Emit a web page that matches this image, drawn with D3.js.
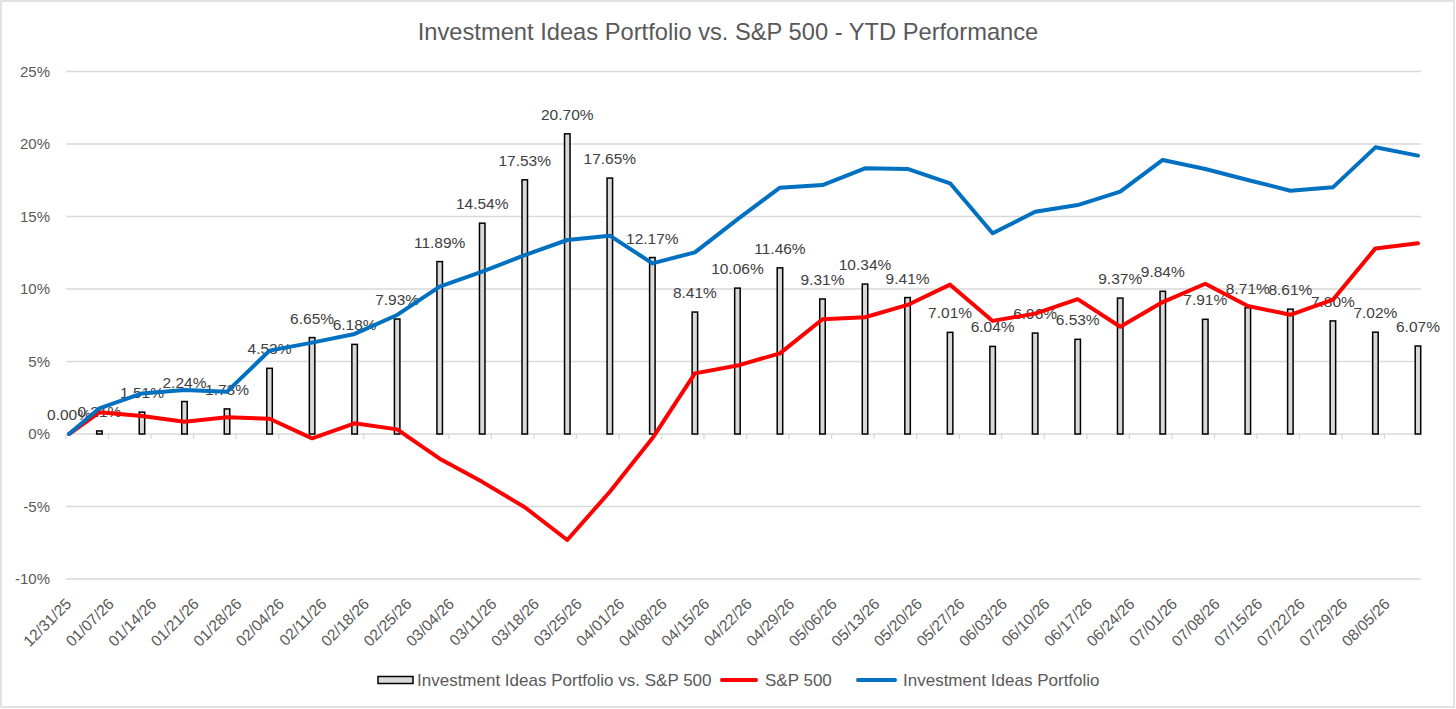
<!DOCTYPE html>
<html>
<head>
<meta charset="utf-8">
<script src="https://cdn.jsdelivr.net/npm/d3@7"></script>
<style>
  body { margin: 0; background: #fff; }
  text { font-family: "Liberation Sans", Arial, sans-serif; }
</style>
</head>
<body>
<div id="chart"></div>
<script>
// weekly observation dates (Mondays, plus the year start)
const dates = ["2025-12-31", "2026-01-05", "2026-01-12", "2026-01-19", "2026-01-26", "2026-02-02", "2026-02-09",
  "2026-02-16", "2026-02-23", "2026-03-02", "2026-03-09", "2026-03-16", "2026-03-23", "2026-03-30", "2026-04-06",
  "2026-04-13", "2026-04-20", "2026-04-27", "2026-05-04", "2026-05-11", "2026-05-18", "2026-05-25", "2026-06-01",
  "2026-06-08", "2026-06-15", "2026-06-22", "2026-06-29", "2026-07-06", "2026-07-13", "2026-07-20", "2026-07-27",
  "2026-08-03", "2026-08-10"];

const portfolio = [0, 1.77, 2.80, 3.03, 2.92, 5.75, 6.30, 6.90, 8.21, 10.16, 11.20, 12.34, 13.38, 13.68, 11.77,
  12.53, 14.80, 16.99, 17.17, 18.32, 18.28, 17.29, 13.84, 15.33, 15.79, 16.71, 18.90, 18.28, 17.52, 16.78, 17.01,
  19.77, 19.20];

const sp500 = [0, 1.50, 1.24, 0.85, 1.15, 1.05, -0.30, 0.74, 0.32, -1.70, -3.30, -5.05, -7.31, -3.98, -0.30,
  4.18, 4.72, 5.56, 7.91, 8.05, 8.90, 10.30, 7.80, 8.30, 9.30, 7.40, 9.10, 10.36, 8.83, 8.22, 9.26, 12.80, 13.15];

const spread = [0.00, 0.21, 1.51, 2.24, 1.73, 4.53, 6.65, 6.18, 7.93, 11.89, 14.54, 17.53, 20.70, 17.65, 12.17,
  8.41, 10.06, 11.46, 9.31, 10.34, 9.41, 7.01, 6.04, 6.96, 6.53, 9.37, 9.84, 7.91, 8.71, 8.61, 7.80, 7.02, 6.07];

// axis ticks every 7 days from 12/31/25
const tickLabels = ["12/31/25", "01/07/26", "01/14/26", "01/21/26", "01/28/26", "02/04/26", "02/11/26", "02/18/26",
  "02/25/26", "03/04/26", "03/11/26", "03/18/26", "03/25/26", "04/01/26", "04/08/26", "04/15/26", "04/22/26",
  "04/29/26", "05/06/26", "05/13/26", "05/20/26", "05/27/26", "06/03/26", "06/10/26", "06/17/26", "06/24/26",
  "07/01/26", "07/08/26", "07/15/26", "07/22/26", "07/29/26", "08/05/26"];

const yTicks = [-10, -5, 0, 5, 10, 15, 20, 25];

const seriesNames = ["Investment Ideas Portfolio vs. S&P 500", "S&P 500", "Investment Ideas Portfolio"];

const width = 1456;
const height = 709;
const plot = { left: 66, right: 1421, top: 71.5, bottom: 579 };

const parse = d3.timeParse("%Y-%m-%d");
const tickParse = d3.timeParse("%m/%d/%y");

const svg = d3.select("#chart")
  .append("svg")
  .attr("width", width)
  .attr("height", height);

// outer chart frame
svg.append("rect")
  .attr("x", 1).attr("y", 1)
  .attr("width", width - 3).attr("height", height - 3)
  .attr("fill", "#fff")
  .attr("stroke", "#d9d9d9")
  .attr("stroke-width", 1.5);

// date axis: each day is one slot, points sit in the middle of their day
const x = d3.scaleTime()
  .domain([parse("2025-12-31"), parse("2026-08-11")])
  .range([plot.left, plot.right]);
const xPoint = d => x(d3.timeHour.offset(parse(d), 12));

const y = d3.scaleLinear()
  .domain([-10, 25])
  .range([plot.bottom, plot.top]);

// gridlines
svg.append("g")
  .selectAll("line")
  .data(yTicks)
  .join("line")
  .attr("x1", plot.left).attr("x2", plot.right)
  .attr("y1", d => y(d)).attr("y2", d => y(d))
  .attr("stroke", "#d9d9d9")
  .attr("stroke-width", 1.3);

// y labels
svg.append("g")
  .selectAll("text")
  .data(yTicks)
  .join("text")
  .attr("x", 50)
  .attr("y", d => y(d))
  .attr("dy", "0.35em")
  .attr("text-anchor", "end")
  .attr("fill", "#595959")
  .style("font-size", "15px")
  .text(d => d + "%");

// x tick marks hang off the 0% line
svg.append("g")
  .selectAll("line")
  .data(tickLabels)
  .join("line")
  .attr("x1", d => x(tickParse(d))).attr("x2", d => x(tickParse(d)))
  .attr("y1", y(0)).attr("y2", y(0) + 5)
  .attr("stroke", "#d9d9d9")
  .attr("stroke-width", 1.3);

// rotated date labels under the plot
svg.append("g")
  .selectAll("text")
  .data(tickLabels)
  .join("text")
  .attr("transform", d => `translate(${x(tickParse(d)) + 2.5},${plot.bottom + 22}) rotate(-45)`)
  .attr("dy", "0.35em")
  .attr("text-anchor", "end")
  .attr("fill", "#595959")
  .style("font-size", "15.5px")
  .text(d => d);

// spread bars
const barW = 5.5;
svg.append("g")
  .selectAll("rect")
  .data(spread)
  .join("rect")
  .attr("x", (d, i) => xPoint(dates[i]) - barW / 2)
  .attr("y", d => y(Math.max(d, 0)))
  .attr("width", barW)
  .attr("height", d => Math.abs(y(d) - y(0)))
  .attr("fill", "#d9d9d9")
  .attr("stroke", "#000")
  .attr("stroke-width", 1.5);

// bar value labels
svg.append("g")
  .selectAll("text")
  .data(spread)
  .join("text")
  .attr("x", (d, i) => xPoint(dates[i]))
  .attr("y", d => y(d) - 14)
  .attr("text-anchor", "middle")
  .attr("fill", "#404040")
  .style("font-size", "15.5px")
  .text(d => d.toFixed(2) + "%");

// lines on top
const line = d3.line()
  .x((d, i) => xPoint(dates[i]))
  .y(d => y(d));

svg.append("path")
  .datum(sp500)
  .attr("d", line)
  .attr("fill", "none")
  .attr("stroke", "#ff0000")
  .attr("stroke-width", 4)
  .attr("stroke-linejoin", "round")
  .attr("stroke-linecap", "round");

svg.append("path")
  .datum(portfolio)
  .attr("d", line)
  .attr("fill", "none")
  .attr("stroke", "#0070c0")
  .attr("stroke-width", 4)
  .attr("stroke-linejoin", "round")
  .attr("stroke-linecap", "round");

// title
svg.append("text")
  .attr("x", width / 2)
  .attr("y", 40)
  .attr("text-anchor", "middle")
  .attr("fill", "#595959")
  .style("font-size", "23.7px")
  .text("Investment Ideas Portfolio vs. S&P 500 - YTD Performance");

// legend
const legend = svg.append("g").attr("transform", "translate(0,680)");

legend.append("rect")
  .attr("x", 378).attr("y", -3.5)
  .attr("width", 35).attr("height", 7)
  .attr("fill", "#d9d9d9")
  .attr("stroke", "#000")
  .attr("stroke-width", 1.5);

legend.append("line")
  .attr("x1", 722).attr("x2", 756)
  .attr("stroke", "#ff0000").attr("stroke-width", 4).attr("stroke-linecap", "round");

legend.append("line")
  .attr("x1", 858).attr("x2", 895)
  .attr("stroke", "#0070c0").attr("stroke-width", 4).attr("stroke-linecap", "round");

legend.selectAll("text.name")
  .data(seriesNames)
  .join("text")
  .attr("class", "name")
  .attr("x", (d, i) => [417, 765, 903][i])
  .attr("dy", "0.35em")
  .attr("fill", "#595959")
  .style("font-size", "17px")
  .text(d => d);
</script>
</body>
</html>
